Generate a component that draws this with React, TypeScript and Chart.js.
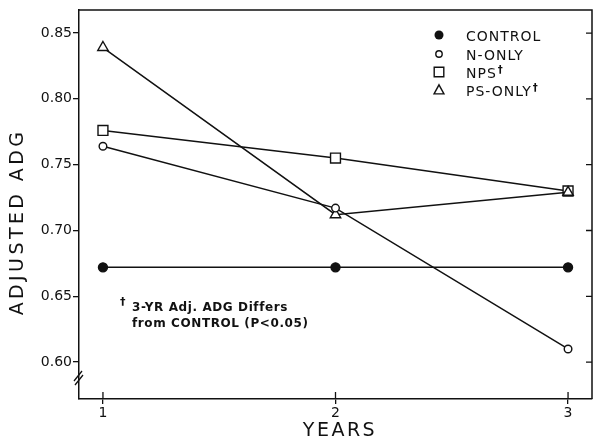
import React, { useEffect, useRef } from "react";
import { Chart, registerables } from "chart.js";

Chart.register(...registerables);

// ---- data ----
const YEARS = [1, 2, 3];
const CONTROL = [0.672, 0.672, 0.672];
const N_ONLY = [0.764, 0.717, 0.61];
const NPS = [0.776, 0.755, 0.73];
const PS_ONLY = [0.839, 0.712, 0.729];
const Y_TICKS = [0.6, 0.65, 0.7, 0.75, 0.8, 0.85];
const X_TICKS = [1, 2, 3];
const LEGEND_LABELS = ["CONTROL", "N-ONLY", "NPS", "PS-ONLY"];
const LEGEND_DAGGER = [false, false, true, true];
const NOTE_LINES = ["3-YR Adj. ADG Differs", "from CONTROL (P<0.05)"];
const Y_TITLE = "ADJUSTED ADG";
const X_TITLE = "YEARS";

const INK = "#111";
const FONT = "'DejaVu Sans', sans-serif";

function marker(ctx: CanvasRenderingContext2D, kind: string, x: number, y: number, r: number) {
  ctx.beginPath();
  if (kind === "dot") {
    ctx.arc(x, y, r, 0, Math.PI * 2);
    ctx.fillStyle = INK;
    ctx.fill();
    return;
  }
  if (kind === "circle") {
    ctx.arc(x, y, r, 0, Math.PI * 2);
  } else if (kind === "rect") {
    ctx.rect(x - r, y - r, 2 * r, 2 * r);
  } else {
    ctx.moveTo(x, y - r);
    ctx.lineTo(x + r * 0.95, y + r * 0.75);
    ctx.lineTo(x - r * 0.95, y + r * 0.75);
    ctx.closePath();
  }
  ctx.fillStyle = "#fff";
  ctx.fill();
  ctx.stroke();
}

const decor = {
  id: "decor",
  afterDraw(chart: any) {
    const { ctx, chartArea: a, scales } = chart;
    const xs = scales.x;
    const ys = scales.y;
    ctx.save();
    ctx.strokeStyle = INK;
    ctx.lineCap = "butt";
    // top and right frame
    ctx.lineWidth = 1.5;
    ctx.beginPath();
    ctx.moveTo(a.left, a.top);
    ctx.lineTo(a.right, a.top);
    ctx.lineTo(a.right, a.bottom);
    ctx.stroke();
    // right inward ticks and x inner ticks
    ctx.lineWidth = 1.3;
    ctx.beginPath();
    for (const v of Y_TICKS) {
      const py = ys.getPixelForValue(v);
      ctx.moveTo(a.right - 6, py);
      ctx.lineTo(a.right, py);
    }
    for (const v of X_TICKS) {
      const px = xs.getPixelForValue(v);
      ctx.moveTo(px, a.bottom);
      ctx.lineTo(px, a.bottom - 7);
    }
    ctx.stroke();
    // axis break marks
    const by = a.bottom - 24;
    ctx.beginPath();
    ctx.moveTo(a.left - 5, by + 6);
    ctx.lineTo(a.left + 3, by - 4);
    ctx.moveTo(a.left - 4, by + 10);
    ctx.lineTo(a.left + 4, by);
    ctx.stroke();

    // legend
    const kinds = ["dot", "circle", "rect", "tri"];
    const sizes = [4.5, 3.2, 4.8, 5.2];
    const rows = [35, 54, 72, 90];
    ctx.lineWidth = 1.4;
    LEGEND_LABELS.forEach((lab, i) => {
      marker(ctx, kinds[i], 439, rows[i], sizes[i]);
      ctx.fillStyle = INK;
      ctx.font = `14px ${FONT}`;
      (ctx as any).letterSpacing = "1px";
      ctx.textAlign = "left";
      ctx.textBaseline = "alphabetic";
      ctx.fillText(lab, 466, rows[i] + 6);
      if (LEGEND_DAGGER[i]) {
        const w = ctx.measureText(lab).width;
        ctx.font = `bold 10px ${FONT}`;
        (ctx as any).letterSpacing = "0px";
        ctx.fillText("†", 466 + w + 1, rows[i] + 1);
      }
    });

    // footnote
    ctx.fillStyle = INK;
    (ctx as any).letterSpacing = "0px";
    ctx.font = `bold 11px ${FONT}`;
    ctx.fillText("†", 120, 305);
    ctx.font = `bold 12px ${FONT}`;
    (ctx as any).letterSpacing = "0.6px";
    ctx.fillText(NOTE_LINES[0], 132, 311);
    ctx.fillText(NOTE_LINES[1], 132, 327);

    // axis titles
    ctx.font = `19px ${FONT}`;
    (ctx as any).letterSpacing = "3.4px";
    ctx.textAlign = "center";
    ctx.textBaseline = "middle";
    ctx.save();
    ctx.translate(18, 222);
    ctx.rotate(-Math.PI / 2);
    ctx.fillText(Y_TITLE, 0, 0);
    ctx.restore();
    ctx.font = `19px ${FONT}`;
    (ctx as any).letterSpacing = "2.5px";
    ctx.fillText(X_TITLE, 340, 431);
    ctx.restore();
  },
};

export default function App() {
  const ref = useRef<HTMLCanvasElement | null>(null);
  useEffect(() => {
    if (!ref.current) return;
    Chart.defaults.font.family = FONT;
    const pts = (arr: number[]) => YEARS.map((x, i) => ({ x, y: arr[i] }));
    const base = {
      borderColor: INK,
      borderWidth: 1.5,
      pointBorderColor: INK,
      pointBorderWidth: 1.4,
      tension: 0,
      fill: false,
      clip: false as any,
    };
    const chart = new Chart(ref.current, {
      type: "line",
      data: {
        datasets: [
          { ...base, label: "CONTROL", data: pts(CONTROL), pointStyle: "circle", pointRadius: 4.5, pointBackgroundColor: INK, order: 3 },
          { ...base, label: "N-ONLY", data: pts(N_ONLY), pointStyle: "circle", pointRadius: 3.8, pointBackgroundColor: "#fff", order: 0 },
          { ...base, label: "NPS", data: pts(NPS), pointStyle: "rect", pointRadius: 7, pointBackgroundColor: "#fff", order: 2 },
          { ...base, label: "PS-ONLY", data: pts(PS_ONLY), pointStyle: "triangle", pointRadius: 6, pointBackgroundColor: "#fff", order: 1 },
        ],
      },
      options: {
        responsive: false,
        animation: false,
        events: [],
        layout: { autoPadding: false, padding: { top: 10, right: 2, left: 0, bottom: 0 } },
        plugins: { legend: { display: false }, tooltip: { enabled: false }, title: { display: false } },
        scales: {
          x: {
            type: "linear",
            min: 0.897,
            max: 3.103,
            afterBuildTicks: (s: any) => {
              s.ticks = X_TICKS.map((v) => ({ value: v }));
            },
            afterFit: (s: any) => {
              s.height = 43;
              s.paddingLeft = 0;
              s.paddingRight = 0;
            },
            grid: { drawOnChartArea: false, drawTicks: true, tickLength: 5, color: INK, lineWidth: 1.3 },
            border: { display: true, color: INK, width: 1.5 },
            ticks: {
              color: INK,
              padding: 1,
              font: { size: 14, family: FONT },
              callback: (v: any) => String(v),
              maxRotation: 0,
            },
          },
          y: {
            type: "linear",
            min: 0.572,
            max: 0.8675,
            afterBuildTicks: (s: any) => {
              s.ticks = Y_TICKS.map((v) => ({ value: v }));
            },
            afterFit: (s: any) => {
              s.width = 79;
              s.paddingTop = 0;
              s.paddingBottom = 0;
            },
            grid: { drawOnChartArea: false, drawTicks: true, tickLength: 6, color: INK, lineWidth: 1.3 },
            border: { display: true, color: INK, width: 1.5 },
            ticks: {
              color: INK,
              padding: 1,
              font: { size: 14, family: FONT },
              callback: (v: any) => Number(v).toFixed(2),
            },
          },
        },
      },
      plugins: [decor],
    });
    return () => chart.destroy();
  }, []);
  return (
    <div style={{ position: "absolute", left: 0, top: 0, width: 594, height: 442, background: "#fff" }}>
      <canvas ref={ref} width={594} height={442} style={{ display: "block" }} />
    </div>
  );
}
